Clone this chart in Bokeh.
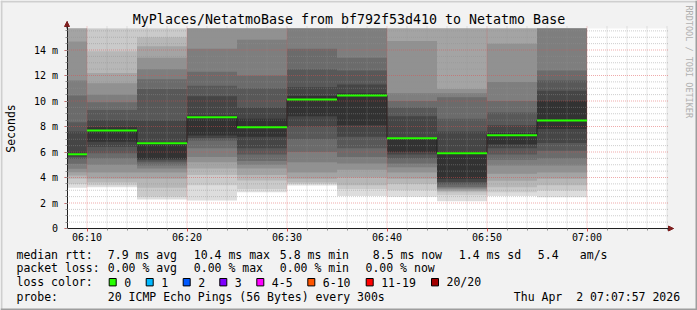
import numpy as np
import pandas as pd
from bokeh.plotting import figure
from bokeh.models import (Range1d, FixedTicker, DatetimeTickFormatter,
                          Arrow, NormalHead)
from bokeh.core.properties import value
from bokeh.embed import file_html
from bokeh.resources import INLINE

# ---------------- data ----------------
DAY = "2026-04-02"
interval_starts = ["06:05", "06:10", "06:15", "06:20", "06:25", "06:30",
                   "06:35", "06:40", "06:45", "06:50", "06:55"]
median_rtt_ms = [5.83, 7.69, 6.69, 8.73, 7.95, 10.12, 10.43, 7.08, 5.91, 7.32, 8.47]

pings_0605 = [3.19, 3.50, 3.90, 4.16, 4.42, 4.68, 5.07, 5.46, 5.60, 5.75,
              5.95, 7.61, 8.34, 10.43, 11.60, 14.67, 16.2, 17.0, 18.0, 19.5]
pings_0610 = [3.24, 3.40, 3.60, 3.90, 4.40, 5.00, 5.50, 5.90, 6.40, 6.80,
              7.95, 8.50, 9.30, 9.90, 10.50, 11.40, 12.20, 13.90, 16.5, 17.5]
pings_0615 = [2.27, 2.50, 3.20, 3.90, 4.40, 4.70, 4.94, 5.20, 5.35, 5.46,
              6.75, 8.47, 10.95, 11.70, 12.50, 13.40, 14.30, 15.00, 17.0, 18.0]
pings_0620 = [2.20, 3.40, 4.20, 4.70, 5.20, 5.60, 6.30, 6.90, 7.10, 7.30,
              8.86, 10.38, 11.20, 12.30, 14.10, 16.5, 17.0, 17.5, 18.0, 19.0]
pings_0625 = [2.85, 3.10, 3.76, 4.20, 4.70, 5.00, 5.30, 5.80, 6.30, 7.20,
              8.60, 9.50, 11.00, 12.00, 14.80, 16.5, 17.0, 17.5, 18.0, 19.0]
pings_0630 = [3.37, 3.50, 3.60, 3.90, 4.40, 5.20, 6.00, 7.00, 8.00, 8.80,
              10.40, 11.10, 12.50, 14.10, 16.5, 17.0, 17.5, 18.0, 19.0, 20.0]
pings_0635 = [2.55, 3.10, 3.40, 4.00, 4.60, 5.10, 5.60, 6.30, 7.20, 8.10,
              10.60, 11.30, 12.40, 13.40, 17.0, 17.5, 18.0, 18.5, 19.0, 20.0]
pings_0640 = [2.50, 3.00, 3.50, 3.90, 4.40, 4.80, 5.10, 5.50, 5.80, 6.00,
              7.10, 8.80, 9.50, 10.00, 10.60, 14.70, 16.5, 17.0, 18.0, 19.0]
pings_0645 = [2.14, 2.60, 2.85, 2.95, 3.05, 3.15, 3.25, 3.45, 3.65, 3.90,
              6.00, 7.60, 8.60, 10.30, 10.60, 10.95, 16.5, 17.0, 18.0, 19.0]
pings_0650 = [2.54, 2.85, 3.24, 3.75, 4.30, 4.94, 5.40, 5.80, 6.30, 6.60,
              7.50, 8.10, 9.10, 10.00, 11.50, 14.50, 16.5, 17.0, 18.0, 19.0]
pings_0655 = [2.46, 2.98, 3.40, 3.90, 4.40, 4.94, 5.50, 6.10, 6.70, 7.80,
              10.00, 10.80, 11.60, 12.40, 16.5, 17.0, 17.5, 18.0, 19.0, 20.0]
pings_per_interval = [pings_0605, pings_0610, pings_0615, pings_0620, pings_0625,
                      pings_0630, pings_0635, pings_0640, pings_0645, pings_0650,
                      pings_0655]

x_tick_labels = ["06:10", "06:20", "06:30", "06:40", "06:50", "07:00"]
y_ticks = [0, 2, 4, 6, 8, 10, 12, 14]
y_tick_labels = ["0", "2 m", "4 m", "6 m", "8 m", "10 m", "12 m", "14 m"]

median_stats = [("avg", 7.9), ("max", 10.4), ("min", 5.8), ("now", 8.5)]
median_sd = 1.4
median_amps = 5.4
loss_stats = [("avg", 0.00), ("max", 0.00), ("min", 0.00), ("now", 0.00)]
loss_labels = ["0", "1", "2", "3", "4-5", "6-10", "11-19", "20/20"]
loss_colors = ["#26ff00", "#00b8ff", "#0059ff", "#7e00ff", "#ff00ff",
               "#ff5500", "#ff0000", "#a10000"]
title_text = "MyPlaces/NetatmoBase from bf792f53d410 to Netatmo Base"
probe_text = "20 ICMP Echo Pings (56 Bytes) every 300s"
stamp_day = "Thu Apr"
stamp_rest = "2 07:07:57 2026"

# ---------------- styles / layout ----------------
W, H = 697, 310
AXIS_X_PX, AXIS_Y_PX = 66.5, 228.0
PX_PER_MS = 12.75
PX_PER_MIN = 10.0
FONT = "DejaVu Sans Mono"
BACK = "#f2f2f2"
SHADE_A = "#cfcfcf"
SHADE_B = "#9e9e9e"
GRID_C = "#8f8f8f"
MGRID_C = "#de4f4f"
ARROW_C = "#801f1f"
AXIS_C = "#1f1f1f"
CHAR_W = 6.94


def ts(hm):
    return pd.Timestamp(f"{DAY} {hm}")


def ms(t):
    return t.value / 1e6


GRAPH_START = ts("06:08")
GRAPH_END = ts("07:08")
Y_GRAPH_MAX = 200 / PX_PER_MS

# the frame covers the whole canvas; map canvas pixels to data
X0 = GRAPH_START - pd.Timedelta(minutes=AXIS_X_PX / PX_PER_MIN)
X1 = X0 + pd.Timedelta(minutes=W / PX_PER_MIN)
Y1 = AXIS_Y_PX / PX_PER_MS
Y0 = -(H - AXIS_Y_PX) / PX_PER_MS


def px2x(px):
    return X0 + pd.Timedelta(minutes=px / PX_PER_MIN)


def py2y(py):
    return (AXIS_Y_PX - py) / PX_PER_MS


p = figure(width=W, height=H, output_backend="svg", toolbar_location=None,
           x_axis_type="datetime", title=None,
           x_range=Range1d(X0, X1), y_range=Range1d(Y0, Y1),
           min_border_left=0, min_border_right=0,
           min_border_top=0, min_border_bottom=0)
p.background_fill_color = BACK
p.border_fill_color = BACK
p.outline_line_color = None
p.xgrid.grid_line_color = None
p.ygrid.grid_line_color = None

# canvas shading border
p.quad(left=[px2x(0), px2x(0), px2x(0), px2x(W - 2)],
       right=[px2x(W), px2x(2), px2x(W), px2x(W)],
       top=[py2y(0), py2y(0), py2y(H - 2), py2y(0)],
       bottom=[py2y(2), py2y(H), py2y(H), py2y(H)],
       fill_color=[SHADE_A, SHADE_A, SHADE_B, SHADE_B], line_color=None)

# graph canvas
p.quad(left=[GRAPH_START], right=[GRAPH_END], bottom=[0], top=[Y_GRAPH_MAX],
       fill_color="#ffffff", line_color=None)

# smoke
starts = [ts(s) for s in interval_starts]
step = pd.Timedelta(minutes=5)
n = len(pings_per_interval[0])
half = n // 2
L, R, B, T, C = [], [], [], [], []
for k in range(half):
    shade = int(190 / half * (half - (k + 1))) + 50
    col = "#%02x%02x%02x" % (shade, shade, shade)
    for st, pv in zip(starts, pings_per_interval):
        v = sorted(pv)
        L.append(max(st, GRAPH_START))
        R.append(st + step)
        B.append(min(v[k], Y_GRAPH_MAX))
        T.append(min(v[n - 1 - k], Y_GRAPH_MAX))
        C.append(col)
p.quad(left=L, right=R, bottom=B, top=T, fill_color=C, line_color=None)

# grid (rrdtool style: drawn over data, dotted)
major_x = [ts(s) for s in x_tick_labels]
minor_x = [GRAPH_START + pd.Timedelta(minutes=m) for m in range(2, 61, 2)]
minor_x = [t for t in minor_x if t not in major_x]
minor_y = [v for v in np.arange(0.5, Y_GRAPH_MAX, 0.5) if v not in y_ticks]
grid_top = Y_GRAPH_MAX + 2.5 / PX_PER_MS
grid_right = GRAPH_END + pd.Timedelta(seconds=6)
p.segment(x0=minor_x, x1=minor_x, y0=[0] * len(minor_x), y1=[grid_top] * len(minor_x),
          line_color=GRID_C, line_alpha=0.75, line_width=0.6, line_dash="1 1")
p.segment(x0=[GRAPH_START] * len(minor_y), x1=[grid_right] * len(minor_y),
          y0=minor_y, y1=minor_y,
          line_color=GRID_C, line_alpha=0.75, line_width=0.6, line_dash="1 1")
major_y = [v for v in y_ticks if v > 0]
p.segment(x0=major_x, x1=major_x, y0=[0] * len(major_x), y1=[grid_top] * len(major_x),
          line_color=MGRID_C, line_alpha=0.6, line_width=0.8, line_dash="1 1")
p.segment(x0=[GRAPH_START] * len(major_y), x1=[grid_right] * len(major_y),
          y0=major_y, y1=major_y,
          line_color=MGRID_C, line_alpha=0.6, line_width=0.8, line_dash="1 1")

# median
p.step(x=starts[1:] + [starts[-1] + step], y=median_rtt_ms[1:] + [median_rtt_ms[-1]],
       mode="after", line_color="#202020", line_width=1)
p.segment(x0=[max(s, GRAPH_START) for s in starts], x1=[s + step for s in starts],
          y0=median_rtt_ms, y1=median_rtt_ms,
          line_color=loss_colors[0], line_width=2)

# axes placed at the graph origin
y_tip = py2y(21)
x_tip = px2x(673)
p.xaxis.fixed_location = 0
p.yaxis.fixed_location = ms(GRAPH_START)
p.xaxis.bounds = (ms(GRAPH_START), ms(x_tip))
p.yaxis.bounds = (0, y_tip)
p.xaxis.ticker = FixedTicker(ticks=[ms(t) for t in major_x],
                             minor_ticks=[ms(t) for t in minor_x])
fmt = "%H:%M"
p.xaxis.formatter = DatetimeTickFormatter(minutes=fmt, hourmin=fmt, hours=fmt,
                                          minsec=fmt, seconds=fmt, days=fmt)
p.yaxis.ticker = FixedTicker(ticks=y_ticks,
                             minor_ticks=list(np.arange(0, Y_GRAPH_MAX, 0.5)))
p.yaxis.major_label_overrides = {t: lab for t, lab in zip(y_ticks, y_tick_labels)}
for ax in (p.xaxis[0], p.yaxis[0]):
    ax.axis_line_color = AXIS_C
    ax.axis_line_width = 1
    ax.major_tick_in = 0
    ax.major_tick_out = 3
    ax.minor_tick_in = 0
    ax.minor_tick_out = 2
    ax.major_tick_line_color = MGRID_C
    ax.minor_tick_line_color = GRID_C
    ax.major_label_text_font = FONT
    ax.major_label_text_font_size = "10px"
    ax.major_label_text_color = "#000000"
p.xaxis.major_label_standoff = 0
p.yaxis.major_label_standoff = 6

# arrows
p.add_layout(Arrow(end=NormalHead(size=5, fill_color=ARROW_C, line_color=ARROW_C),
                   x_start=ms(GRAPH_START), y_start=Y_GRAPH_MAX,
                   x_end=ms(GRAPH_START), y_end=y_tip,
                   line_color=AXIS_C, line_width=1))
p.add_layout(Arrow(end=NormalHead(size=5, fill_color=ARROW_C, line_color=ARROW_C),
                   x_start=ms(GRAPH_END), y_start=0, x_end=ms(x_tip), y_end=0,
                   line_color=AXIS_C, line_width=1))


# ---------------- texts outside the graph ----------------
def add_text(txts, pxs, pys, size="11.5px", align="left", color="#000000", angle=0.0):
    p.text(x=[px2x(v) for v in pxs], y=[py2y(v) for v in pys], text=txts,
           text_font=value(FONT), text_font_size=value(size), text_align=align,
           text_baseline="middle", text_color=color, angle=angle)


add_text([title_text], [W / 2], [19.3], size="13.3px", align="center")
add_text(["RRDTOOL / TOBI OETIKER"], [688], [5], size="8.5px",
         color="#b0b0b0", angle=-np.pi / 2)
add_text(["Seconds"], [10.5], [128.0], align="center", angle=np.pi / 2)

ROW1, ROW2, ROW3, ROW4 = 254.0, 267.7, 281.7, 296.0
row1 = (["median rtt:"] + [f"{v:.1f} ms {k}" for k, v in median_stats]
        + [f"{median_sd:.1f} ms sd", f"{median_amps:.1f}", "am/s"])
row1_x = [16, 107.3, 193.3, 279.3, 372.3, 458.3, 537.3, 579.3]
add_text(row1, row1_x, [ROW1] * len(row1))

row2 = ["packet loss:"] + [f"{v:.2f} % {k}" for k, v in loss_stats]
row2_x = [16, 107.3, 193.3, 279.3, 365.0]
add_text(row2, row2_x, [ROW2] * len(row2))

swatch_left = [108.7, 145.7, 182.7, 219.3, 256.3, 307.3, 365.7, 431.0]
add_text(["loss color:"], [16], [ROW3])
p.quad(left=[px2x(s) for s in swatch_left], right=[px2x(s + 7) for s in swatch_left],
       top=[py2y(ROW3 - 3.7)] * len(swatch_left),
       bottom=[py2y(ROW3 + 3.7)] * len(swatch_left),
       fill_color=loss_colors, line_color="#000000", line_width=1)
add_text(loss_labels, [s + 15 for s in swatch_left], [ROW3] * len(loss_labels))

stamp_x = 513.3
add_text(["probe:", probe_text, stamp_day, stamp_rest],
         [16, 107.3, stamp_x, stamp_x + 9 * CHAR_W], [ROW4] * 4)

open("out.html", "w").write(file_html(p, INLINE))
